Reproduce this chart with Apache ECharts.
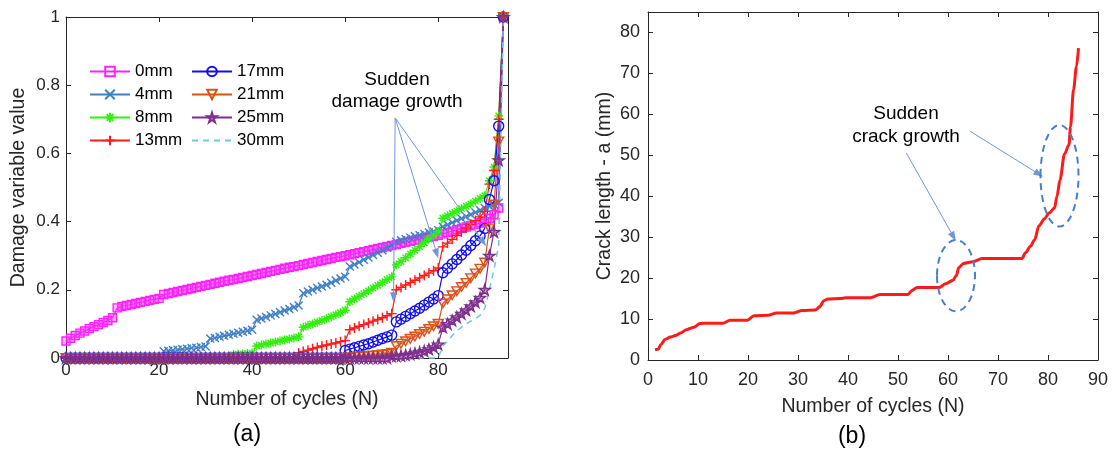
<!DOCTYPE html>
<html>
<head>
<meta charset="utf-8">
<script src="https://cdn.jsdelivr.net/npm/echarts@6.0.0/dist/echarts.min.js"></script>
<style>
html, body { margin: 0; padding: 0; background: #fff; }
#main { width: 1113px; height: 454px; }
</style>
</head>
<body>
<div id="main"></div>
<script>
// (a) damage variable, one value per cycle 0..94
var cycles = [];
for (var i = 0; i <= 94; i++) cycles.push(i);

var d0mm = [0.05, 0.058, 0.066, 0.073, 0.079, 0.086, 0.092, 0.098, 0.104, 0.11, 0.118,
  0.147, 0.151, 0.154, 0.157, 0.16, 0.163, 0.166, 0.169, 0.172, 0.175,
  0.186, 0.189, 0.192, 0.195, 0.198, 0.201, 0.204, 0.207, 0.21, 0.213,
  0.216, 0.219, 0.222, 0.225, 0.228, 0.23, 0.233, 0.236, 0.239, 0.242,
  0.245, 0.248, 0.251, 0.254, 0.257, 0.26, 0.263, 0.266, 0.268, 0.271,
  0.274, 0.277, 0.28, 0.283, 0.286, 0.289, 0.292, 0.295, 0.297, 0.3,
  0.303, 0.306, 0.309, 0.312, 0.315, 0.318, 0.321, 0.324, 0.327, 0.33,
  0.333, 0.336, 0.339, 0.342, 0.345, 0.348, 0.351, 0.354, 0.357, 0.36,
  0.364, 0.368, 0.372, 0.376, 0.38, 0.384, 0.388, 0.392, 0.396, 0.4,
  0.41, 0.42, 0.44, 1];
var d4mm = [0, 0, 0, 0, 0, 0, 0, 0, 0, 0, 0,
  0, 0, 0, 0, 0, 0, 0, 0, 0, 0,
  0.02, 0.021, 0.023, 0.024, 0.026, 0.027, 0.029, 0.03, 0.032, 0.034,
  0.057, 0.059, 0.062, 0.065, 0.068, 0.071, 0.074, 0.077, 0.08, 0.083,
  0.112, 0.116, 0.12, 0.125, 0.129, 0.134, 0.139, 0.144, 0.149, 0.154,
  0.19, 0.195, 0.2, 0.205, 0.21, 0.215, 0.221, 0.227, 0.233, 0.238,
  0.268, 0.274, 0.281, 0.288, 0.295, 0.302, 0.309, 0.316, 0.323, 0.331,
  0.341, 0.345, 0.349, 0.353, 0.357, 0.36, 0.364, 0.368, 0.371, 0.375,
  0.385, 0.391, 0.397, 0.403, 0.409, 0.415, 0.421, 0.427, 0.433, 0.44,
  0.445, 0.45, 0.455, 1];
var d8mm = [0, 0, 0, 0, 0, 0, 0, 0, 0, 0, 0,
  0, 0, 0, 0, 0, 0, 0, 0, 0, 0,
  0, 0, 0, 0, 0, 0, 0, 0, 0, 0,
  0, 0, 0, 0, 0, 0.01, 0.011, 0.012, 0.013, 0.014,
  0.035, 0.038, 0.041, 0.044, 0.047, 0.05, 0.053, 0.056, 0.059, 0.062,
  0.09, 0.095, 0.1, 0.105, 0.11, 0.115, 0.121, 0.127, 0.133, 0.14,
  0.165, 0.173, 0.181, 0.189, 0.197, 0.205, 0.213, 0.221, 0.23, 0.238,
  0.273, 0.283, 0.294, 0.305, 0.316, 0.327, 0.338, 0.349, 0.36, 0.371,
  0.41, 0.417, 0.424, 0.431, 0.438, 0.445, 0.452, 0.46, 0.468, 0.476,
  0.52, 0.56, 0.71, 1];
var d13mm = [0, 0, 0, 0, 0, 0, 0, 0, 0, 0, 0,
  0, 0, 0, 0, 0, 0, 0, 0, 0, 0,
  0, 0, 0, 0, 0, 0, 0, 0, 0, 0,
  0, 0, 0, 0, 0, 0, 0, 0, 0, 0,
  0, 0, 0, 0, 0, 0, 0, 0, 0, 0.015,
  0.019, 0.023, 0.027, 0.031, 0.035, 0.038, 0.041, 0.044, 0.048, 0.051,
  0.083, 0.088, 0.093, 0.098, 0.103, 0.108, 0.113, 0.118, 0.124, 0.13,
  0.2, 0.207, 0.214, 0.221, 0.228, 0.235, 0.242, 0.249, 0.256, 0.264,
  0.326, 0.337, 0.348, 0.359, 0.37, 0.381, 0.392, 0.403, 0.414, 0.43,
  0.51, 0.55, 0.7, 1];
var d17mm = [0, 0, 0, 0, 0, 0, 0, 0, 0, 0, 0,
  0, 0, 0, 0, 0, 0, 0, 0, 0, 0,
  0, 0, 0, 0, 0, 0, 0, 0, 0, 0,
  0, 0, 0, 0, 0, 0, 0, 0, 0, 0,
  0, 0, 0, 0, 0, 0, 0, 0, 0, 0,
  0, 0, 0, 0, 0, 0, 0, 0, 0, 0.022,
  0.026, 0.03, 0.034, 0.038, 0.042, 0.047, 0.052, 0.057, 0.062, 0.067,
  0.106, 0.114, 0.122, 0.13, 0.138, 0.146, 0.155, 0.164, 0.173, 0.183,
  0.25, 0.263, 0.276, 0.289, 0.302, 0.316, 0.33, 0.344, 0.358, 0.38,
  0.465, 0.52, 0.68, 1];
var d21mm = [0, 0, 0, 0, 0, 0, 0, 0, 0, 0, 0,
  0, 0, 0, 0, 0, 0, 0, 0, 0, 0,
  0, 0, 0, 0, 0, 0, 0, 0, 0, 0,
  0, 0, 0, 0, 0, 0, 0, 0, 0, 0,
  0, 0, 0, 0, 0, 0, 0, 0, 0, 0,
  0, 0, 0, 0, 0, 0, 0, 0, 0, 0,
  0.002, 0.003, 0.004, 0.005, 0.006, 0.007, 0.008, 0.01, 0.012, 0.015,
  0.035, 0.042, 0.049, 0.056, 0.063, 0.07, 0.077, 0.085, 0.093, 0.1,
  0.16, 0.172, 0.184, 0.196, 0.208, 0.22, 0.234, 0.248, 0.262, 0.28,
  0.38, 0.45, 0.635, 1];
var d25mm = [0, 0, 0, 0, 0, 0, 0, 0, 0, 0, 0,
  0, 0, 0, 0, 0, 0, 0, 0, 0, 0,
  0, 0, 0, 0, 0, 0, 0, 0, 0, 0,
  0, 0, 0, 0, 0, 0, 0, 0, 0, 0,
  0, 0, 0, 0, 0, 0, 0, 0, 0, 0,
  0, 0, 0, 0, 0, 0, 0, 0, 0, 0,
  0, 0, 0, 0, 0, 0, 0, 0, 0, 0.005,
  0.006, 0.007, 0.009, 0.011, 0.014, 0.017, 0.021, 0.026, 0.032, 0.04,
  0.09, 0.1, 0.11, 0.12, 0.13, 0.14, 0.152, 0.164, 0.177, 0.2,
  0.3, 0.37, 0.58, 1];
var d30mm = [0, 0, 0, 0, 0, 0, 0, 0, 0, 0, 0,
  0, 0, 0, 0, 0, 0, 0, 0, 0, 0,
  0, 0, 0, 0, 0, 0, 0, 0, 0, 0,
  0, 0, 0, 0, 0, 0, 0, 0, 0, 0,
  0, 0, 0, 0, 0, 0, 0, 0, 0, 0,
  0, 0, 0, 0, 0, 0, 0, 0, 0, 0,
  0, 0, 0, 0, 0, 0, 0, 0, 0, 0,
  0, 0, 0, 0, 0, 0, 0, 0, 0, 0,
  0.035, 0.05, 0.065, 0.08, 0.09, 0.1, 0.108, 0.115, 0.125, 0.145,
  0.2, 0.26, 0.33, 1];

// (b) crack length vs cycles
var crackN = [1.4, 2, 2.6, 3.4, 4.5, 5.5, 6.5, 7.7, 9.2, 10.4, 11.5, 15, 16.4, 19.8, 21.2, 24,
  25.7, 29.2, 30.8, 33.5, 34.3, 35.2, 36, 38.5, 39.5, 44.5, 46.4, 52, 52.8, 53.8, 58.3,
  59.5, 61, 61.6, 62.2, 63.1, 65, 66.8, 74.8, 75.5, 76.5, 77.3, 78.2, 79.3, 80.2, 81.3,
  81.8, 82.4, 83.3, 84.2, 84.5, 85.1, 85.7, 86.1];
var crackA = [2.5, 2.6, 3.8, 5.0, 5.6, 6.0, 6.6, 7.4, 8.0, 8.9, 9.0, 9.0, 9.7, 9.7, 10.8, 10.9,
  11.5, 11.5, 12.1, 12.2, 13.0, 14.5, 14.9, 15.0, 15.2, 15.2, 16.0, 16.0, 17.0, 17.7, 17.7,
  18.6, 19.5, 20.5, 22.6, 23.6, 24.0, 24.8, 24.8, 26.2, 27.8, 29.3, 32.8, 34.5, 35.9, 37.1,
  40, 44, 50.3, 52.6, 57, 66, 71.7, 76.2];

var FONT = 'Liberation Sans, Arial, sans-serif';
var AXC = '#262626';
var ARROW = '#7096d6';

var SYM = {
  square: 'path://M0,0L10,0L10,10L0,10Z',
  cross: 'path://M0,0L10,10M10,0L0,10',
  aster: 'path://M5,0L5,10M0,5L10,5M1.5,1.5L8.5,8.5M8.5,1.5L1.5,8.5',
  plus: 'path://M5,0L5,10M0,5L10,5',
  circle: 'path://M10,5A5,5,0,1,1,0,5A5,5,0,1,1,10,5Z',
  tri: 'path://M0,0L10,0L5,8.66Z',
  star: 'path://M5,0L6.123,3.455L9.755,3.455L6.817,5.59L7.939,9.045L5,6.91L2.061,9.045L3.183,5.59L0.245,3.455L3.877,3.455Z'
};

function damage(name, vals, color, sym, size, fill, dashed) {
  return {
    name: name,
    type: 'line',
    xAxisIndex: 0,
    yAxisIndex: 0,
    data: cycles.map(function (c, k) { return [c, vals[k]]; }),
    symbol: sym || 'none',
    symbolSize: size || 8,
    symbolKeepAspect: true,
    clip: false,
    color: color,
    lineStyle: { color: color, width: dashed ? 1.5 : 1.2, type: dashed ? [6, 5] : 'solid' },
    itemStyle: { color: fill || 'rgba(0,0,0,0)', borderColor: color, borderWidth: sym ? 1.4 : 0 },
    emphasis: { disabled: true },
    animation: false
  };
}

function axisBase(extra) {
  var a = {
    type: 'value',
    axisLine: { onZero: false, lineStyle: { color: AXC, width: 1 } },
    axisTick: { inside: true, length: 5, lineStyle: { color: AXC } },
    splitLine: { show: false },
    axisLabel: { color: AXC, fontFamily: FONT }
  };
  for (var k in extra) a[k] = extra[k];
  return a;
}

var series = [
  damage('0mm', d0mm, '#ff22ff', SYM.square, 8, 'rgba(255,34,255,0.3)'),
  damage('4mm', d4mm, '#3f7fc4', SYM.cross, 8),
  damage('8mm', d8mm, '#33ee11', SYM.aster, 9),
  damage('13mm', d13mm, '#ff1a1a', SYM.plus, 10),
  damage('17mm', d17mm, '#1010ee', SYM.circle, 10),
  damage('21mm', d21mm, '#d95319', SYM.tri, 10, 'rgba(217,83,25,0.15)'),
  damage('25mm', d25mm, '#7e2f8e', SYM.star, 11, 'rgba(126,47,142,0.45)'),
  damage('30mm', d30mm, '#6cc8ec', null, 0, null, true)
];

// arrows of (a), in data coordinates
series[7].markLine = {
  silent: true,
  symbol: ['none', 'triangle'],
  symbolSize: [7, 10],
  label: { show: false },
  lineStyle: { color: ARROW, width: 1, type: 'solid' },
  data: [
    [{ coord: [70.75, 0.704] }, { coord: [70.4, 0.178] }],
    [{ coord: [70.75, 0.704] }, { coord: [79.7, 0.306] }],
    [{ coord: [70.75, 0.704] }, { coord: [89.7, 0.34] }]
  ]
};

series.push({
  name: 'crack',
  type: 'line',
  xAxisIndex: 2,
  yAxisIndex: 2,
  data: crackN.map(function (n, k) { return [n, crackA[k]]; }),
  symbol: 'none',
  smooth: 0.3,
  smoothMonotone: 'x',
  lineStyle: { color: '#ff1a1a', width: 3 },
  emphasis: { disabled: true },
  animation: false,
  markLine: {
    silent: true,
    symbol: ['none', 'triangle'],
    symbolSize: [7, 10],
    label: { show: false },
    lineStyle: { color: ARROW, width: 1, type: 'solid' },
    data: [
      [{ coord: [64.4, 55.9] }, { coord: [78.2, 45.4] }],
      [{ coord: [51.7, 50.5] }, { coord: [61.1, 30.1] }]
    ]
  }
});

function legendCol(names, left) {
  return {
    data: names.map(function (n) {
      return { name: n, itemStyle: { color: 'rgba(0,0,0,0)' } };
    }),
    left: left,
    top: 63,
    padding: 0,
    orient: 'vertical',
    itemWidth: 40,
    itemHeight: 12,
    itemGap: 6,
    selectedMode: false,
    textStyle: { fontSize: 17, color: '#000', fontFamily: FONT, lineHeight: 17 }
  };
}

var option = {
  backgroundColor: '#fff',
  animation: false,
  textStyle: { fontFamily: FONT },
  grid: [
    { left: 66, top: 17, width: 442, height: 341, outerBoundsMode: 'none' },
    { left: 648, top: 12, width: 450, height: 348, outerBoundsMode: 'none' }
  ],
  legend: [
    legendCol(['0mm', '4mm', '8mm', '13mm'], 89),
    legendCol(['17mm', '21mm', '25mm', '30mm'], 191)
  ],
  xAxis: [
    axisBase({ gridIndex: 0, position: 'bottom', min: 0, max: 95, interval: 20,
      axisLabel: { color: AXC, fontFamily: FONT, fontSize: 17, margin: 4, showMaxLabel: false },
      name: 'Number of cycles (N)', nameLocation: 'middle', nameGap: 32,
      nameTextStyle: { color: AXC, fontSize: 19.5, fontFamily: FONT } }),
    axisBase({ gridIndex: 0, position: 'top', min: 0, max: 95, interval: 20, axisLabel: { show: false } }),
    axisBase({ gridIndex: 1, position: 'bottom', min: 0, max: 90, interval: 10,
      axisLabel: { color: AXC, fontFamily: FONT, fontSize: 18, margin: 11 },
      name: 'Number of cycles (N)', nameLocation: 'middle', nameGap: 37,
      nameTextStyle: { color: AXC, fontSize: 19.5, fontFamily: FONT } }),
    axisBase({ gridIndex: 1, position: 'top', min: 0, max: 90, interval: 10, axisLabel: { show: false } })
  ],
  yAxis: [
    axisBase({ gridIndex: 0, position: 'left', min: 0, max: 1, interval: 0.2,
      axisLabel: { color: AXC, fontFamily: FONT, fontSize: 17, margin: 6 },
      name: 'Damage variable value', nameLocation: 'middle', nameGap: 37,
      nameTextStyle: { color: AXC, fontSize: 19.5, fontFamily: FONT } }),
    axisBase({ gridIndex: 0, position: 'right', min: 0, max: 1, interval: 0.2, axisLabel: { show: false } }),
    axisBase({ gridIndex: 1, position: 'left', min: 0, max: 85, interval: 10,
      axisLabel: { color: AXC, fontFamily: FONT, fontSize: 18, margin: 8, showMaxLabel: false },
      name: 'Crack length - a (mm)', nameLocation: 'middle', nameGap: 33,
      nameTextStyle: { color: AXC, fontSize: 19.5, fontFamily: FONT } }),
    axisBase({ gridIndex: 1, position: 'right', min: 0, max: 85, interval: 10, axisLabel: { show: false } })
  ],
  series: series
};

var chart = echarts.init(document.getElementById('main'));
chart.setOption(option);

// dashed ellipses and captions on top
function ellipse(cx, cy, dx, dy) {
  var f = { xAxisIndex: 2, yAxisIndex: 2 };
  var c = chart.convertToPixel(f, [cx, cy]);
  var e = chart.convertToPixel(f, [cx + dx, cy + dy]);
  return {
    type: 'ellipse',
    shape: { cx: c[0], cy: c[1], rx: Math.abs(e[0] - c[0]), ry: Math.abs(e[1] - c[1]) },
    style: { fill: 'none', stroke: '#4a7fc8', lineWidth: 2, lineDash: [7, 5] },
    z: 10
  };
}

function caption(text, x, y, size, lh) {
  return {
    type: 'text', x: x, y: y, z: 10,
    style: { text: text, fill: '#000', font: size + 'px ' + FONT, textAlign: 'center',
      textVerticalAlign: 'top', lineHeight: lh || size }
  };
}

chart.setOption({
  graphic: [
    ellipse(61.6, 20.6, 3.8, 8.7),
    ellipse(82.3, 45, 3.8, 12.4),
    caption('Sudden\ndamage growth', 397, 69, 19, 22),
    caption('Sudden\ncrack growth', 906, 102, 19, 23),
    caption('(a)', 247, 423, 23),
    caption('(b)', 852, 425, 23)
  ]
});
</script>
</body>
</html>
